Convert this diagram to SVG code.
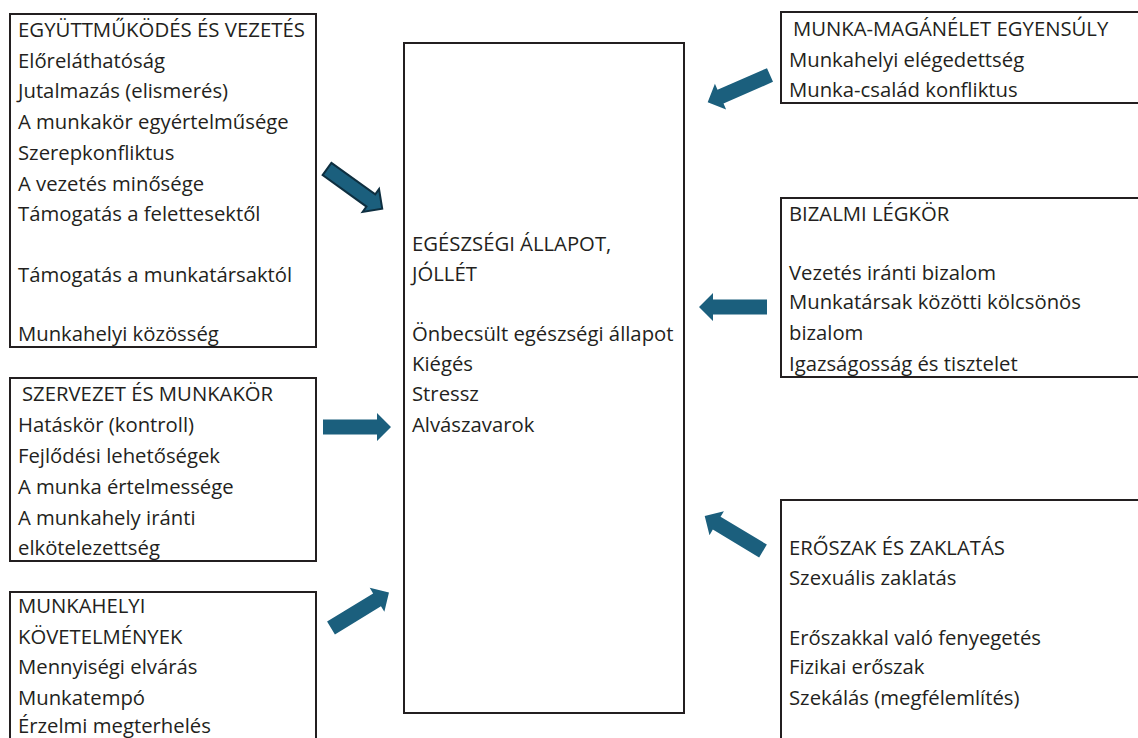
<svg xmlns="http://www.w3.org/2000/svg" width="1138" height="738" viewBox="0 0 1138 738">
<style>
.box{fill:#fff;stroke:#231f20;stroke-width:2}
text{font-family:"Open Sans",Lato,"Liberation Sans",sans-serif;font-size:20.3px;fill:#231f20}
.arr{fill:#1b5f7d}
.arr2{fill:#1b5f7d;stroke:#0e2f40;stroke-width:2;stroke-linejoin:miter}
</style>
<defs>
<path id="ar" d="M0,-7.5 H54 V-14 L68,0 L54,14 V7.5 H0 Z"/>
</defs>
<rect width="1138" height="738" fill="#fff"/>
<g id="n-egyutt">
<rect class="box" x="10" y="14" width="306" height="333"/>
<text x="18" y="37" textLength="287" lengthAdjust="spacingAndGlyphs">EGYÜTTMŰKÖDÉS ÉS VEZETÉS</text>
<text x="18" y="68">Előreláthatóság</text>
<text x="18" y="98">Jutalmazás (elismerés)</text>
<text x="18" y="129">A munkakör egyértelműsége</text>
<text x="18" y="160">Szerepkonfliktus</text>
<text x="18" y="191">A vezetés minősége</text>
<text x="18" y="221">Támogatás a felettesektől</text>
<text x="18" y="282">Támogatás a munkatársaktól</text>
<text x="18" y="341">Munkahelyi közösség</text>
</g>
<g id="n-center">
<rect class="box" x="404" y="43" width="280" height="670"/>
<text x="412" y="251">EGÉSZSÉGI ÁLLAPOT,</text>
<text x="412" y="281">JÓLLÉT</text>
<text x="412" y="341">Önbecsült egészségi állapot</text>
<text x="412" y="371">Kiégés</text>
<text x="412" y="401">Stressz</text>
<text x="412" y="432">Alvászavarok</text>
</g>
<g id="n-szervezet">
<rect class="box" x="10" y="378" width="306" height="183"/>
<text x="22" y="401">SZERVEZET ÉS MUNKAKÖR</text>
<text x="18" y="432">Hatáskör (kontroll)</text>
<text x="18" y="463">Fejlődési lehetőségek</text>
<text x="18" y="494">A munka értelmessége</text>
<text x="18" y="525">A munkahely iránti</text>
<text x="18" y="555">elkötelezettség</text>
</g>
<g id="n-kovetelmenyek">
<rect class="box" x="10" y="592" width="306" height="160"/>
<text x="18" y="613">MUNKAHELYI</text>
<text x="18" y="644">KÖVETELMÉNYEK</text>
<text x="18" y="674">Mennyiségi elvárás</text>
<text x="18" y="705">Munkatempó</text>
<text x="18" y="733">Érzelmi megterhelés</text>
</g>
<g id="n-munka-magan">
<rect class="box" x="781" y="12" width="370" height="91"/>
<text x="793" y="36">MUNKA-MAGÁNÉLET EGYENSÚLY</text>
<text x="789" y="67">Munkahelyi elégedettség</text>
<text x="789" y="97">Munka-család konfliktus</text>
</g>
<g id="n-bizalmi">
<rect class="box" x="781" y="198" width="370" height="179"/>
<text x="789" y="221">BIZALMI LÉGKÖR</text>
<text x="789" y="280">Vezetés iránti bizalom</text>
<text x="789" y="309">Munkatársak közötti kölcsönös</text>
<text x="789" y="340">bizalom</text>
<text x="789" y="371">Igazságosság és tisztelet</text>
</g>
<g id="n-eroszak">
<rect class="box" x="781" y="500" width="370" height="260"/>
<text x="789" y="555">ERŐSZAK ÉS ZAKLATÁS</text>
<text x="789" y="585">Szexuális zaklatás</text>
<text x="789" y="645">Erőszakkal való fenyegetés</text>
<text x="789" y="674">Fizikai erőszak</text>
<text x="789" y="705">Szekálás (megfélemlítés)</text>
</g>
<g id="connectors">
<use href="#ar" class="arr2" transform="translate(327,169) rotate(35.7)"/>
<use href="#ar" class="arr" transform="translate(323,427)"/>
<use href="#ar" class="arr" transform="translate(331,628) rotate(-31.5)"/>
<use href="#ar" class="arr" transform="translate(770,75) rotate(156.4)"/>
<use href="#ar" class="arr" transform="translate(767,307) rotate(180)"/>
<use href="#ar" class="arr" transform="translate(763,551) rotate(211)"/>
</g>
</svg>
